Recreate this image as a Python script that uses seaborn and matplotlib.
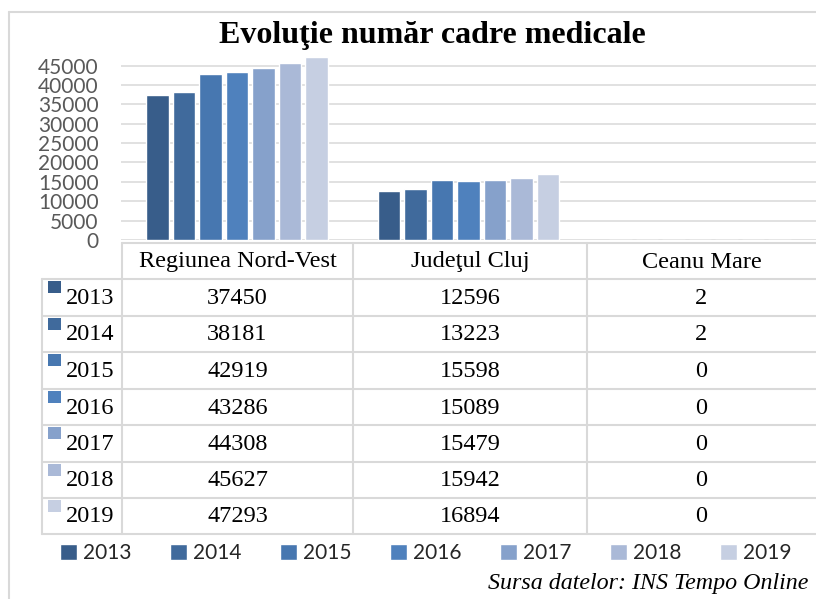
import matplotlib
matplotlib.use('Agg')
import matplotlib.pyplot as plt
import seaborn as sns
import pandas as pd
from matplotlib.patches import Rectangle

years = ['2013', '2014', '2015', '2016', '2017', '2018', '2019']
zones = ['Regiunea Nord-Vest', 'Judeţul Cluj', 'Ceanu Mare']
nord_vest = [37450, 38181, 42919, 43286, 44308, 45627, 47293]
cluj = [12596, 13223, 15598, 15089, 15479, 15942, 16894]
ceanu = [2, 2, 0, 0, 0, 0, 0]
colors = ['#385D8A', '#406A9C', '#4777B0', '#4F81BD', '#86A1CB', '#AAB9D7', '#C6CFE2']

values = [nord_vest, cluj, ceanu]
df = pd.DataFrame({
    'Zona': [z for z in zones for _ in years],
    'An': years * len(zones),
    'Valoare': [v for serie in values for v in serie],
})

sns.set_style('white')
SERIF = 'Liberation Serif'
SANS = 'Lato'

W, H = 816, 599
fig = plt.figure(figsize=(W / 100, H / 100), dpi=100)

# BAR AREA (0 AT THE TOP OF THE TABLE)
ax = fig.add_axes([121 / W, 1 - 240 / H, (W - 121) / W, 190 / H])
sns.barplot(data=df, x='Zona', y='Valoare', hue='An', palette=colors,
            width=0.8, gap=0.15, ax=ax, saturation=1)
ax.set_ylim(0, 49000)
ax.set_yticks(range(0, 45001, 5000))
ax.set_yticklabels([str(t) for t in range(0, 45001, 5000)], family=SANS, fontsize=15, color='#595959')
ax.tick_params(axis='y', length=0, pad=16)
ax.tick_params(axis='x', bottom=False, labelbottom=False)
ax.set_xlabel('')
ax.set_ylabel('')
ax.grid(axis='y', color='#D9D9D9', lw=1.1)
ax.set_axisbelow(True)
for s in ax.spines.values():
    s.set_visible(False)

handles, labels = ax.get_legend_handles_labels()
ax.get_legend().remove()
fig.legend(handles, labels, ncol=7, loc='center', bbox_to_anchor=(426 / W, 1 - 553 / H),
           frameon=False, handlelength=0.8, handleheight=0.8, handletextpad=0.3,
           columnspacing=1.85, prop={'family': SANS, 'size': 15})

# OVERLAY IN PIXEL COORDS FOR TITLE, BORDER AND DATA TABLE
ov = fig.add_axes([0, 0, 1, 1])
ov.set_xlim(0, W)
ov.set_ylim(H, 0)
ov.axis('off')
ov.patch.set_alpha(0)

grey = '#D9D9D9'
ov.plot([9, 9], [12, H], color=grey, lw=1.5)
ov.plot([9, W], [12, 12], color=grey, lw=1.5)

ov.text(432, 35, 'Evoluţie număr cadre medicale', ha='center', va='center',
        family=SERIF, fontweight='bold', fontsize=23, color='black')

row_lines = [279, 316, 352, 389, 425, 462, 498, 534]
col_lines = [122, 353, 587, W]
ov.plot([122, W], [243, 243], color=grey, lw=1.5)
for y in row_lines:
    ov.plot([42, W], [y, y], color=grey, lw=1.5)
ov.plot([42, 42], [279, 534], color=grey, lw=1.5)
for x in col_lines[:-1]:
    ov.plot([x, x], [243, 534], color=grey, lw=1.5)

centers = [(col_lines[i] + col_lines[i + 1]) / 2 for i in range(3)]
for c, z in zip(centers, zones):
    ov.text(c, 262, z, ha='center', va='center', family=SERIF, fontsize=17.5, color='black')

for i, yr in enumerate(years):
    top, bot = row_lines[i], row_lines[i + 1]
    mid = (top + bot) / 2 + 1
    ov.add_patch(Rectangle((48, top + 2), 13, 12, color=colors[i], lw=0))
    ov.text(66, mid, yr, ha='left', va='center', family=SERIF, fontsize=17.5, color='black')
    for c, serie in zip(centers, values):
        ov.text(c, mid, str(serie[i]), ha='center', va='center', family=SERIF, fontsize=17.5, color='black')

ov.text(808, 583, 'Sursa datelor: INS Tempo Online', ha='right', va='center',
        family=SERIF, style='italic', fontsize=17.3, color='black')

fig.savefig('out.png', dpi=100)
